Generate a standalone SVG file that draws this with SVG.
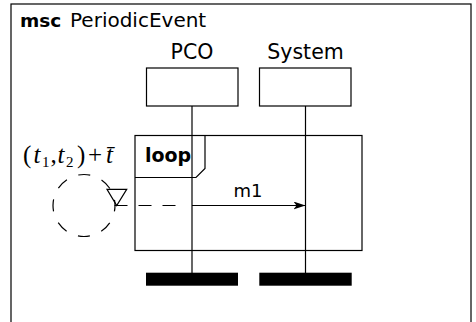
<svg xmlns="http://www.w3.org/2000/svg" width="476" height="322" viewBox="0 0 476 322">
<style>
.ln{fill:none;stroke:#000;stroke-width:1.2}
.box{fill:#fff;stroke:#000;stroke-width:1.2}
.bar{fill:#000;stroke:none}
.sans{font-family:"DejaVu Sans","Liberation Sans",sans-serif;fill:#000}
.math{font-family:"Liberation Serif","DejaVu Serif",serif;fill:#000}
.dash{fill:none;stroke:#000;stroke-width:1.2;stroke-dasharray:13 11}
</style>
<defs>
<marker id="arr" viewBox="0 0 12 8" refX="12" refY="4" markerWidth="12" markerHeight="8" markerUnits="userSpaceOnUse" orient="auto">
<path d="M12,4 L0,0 L3,4 L0,8 Z" fill="#000"/>
</marker>
</defs>
<rect width="476" height="322" fill="#fff"/>
<g id="frame">
<rect class="ln" x="11" y="4" width="460" height="340"/>
<text class="sans" y="27"><tspan x="20" font-weight="bold" font-size="18.5">msc</tspan><tspan x="70" font-size="20">PeriodicEvent</tspan></text>
</g>
<g id="loop">
<rect class="ln" x="135" y="135.5" width="227" height="115"/>
<path class="ln" d="M135,135.5 H205 V168.5 L196,177.5 H135"/>
<text class="sans" x="145" y="162" font-size="19" font-weight="bold">loop</text>
</g>
<g id="connectors">
<line class="ln" x1="192" y1="106" x2="192" y2="273"/>
<line class="ln" x1="305.5" y1="106" x2="305.5" y2="273"/>
<path class="dash" d="M114.5,205.5 H178"/>
<line class="ln" x1="192" y1="205.5" x2="305.5" y2="205.5" marker-end="url(#arr)"/>
<text class="sans" x="248" y="196.5" font-size="18" text-anchor="middle">m1</text>
</g>
<g id="PCO">
<text class="sans" x="192" y="58.5" font-size="20.5" text-anchor="middle">PCO</text>
<rect class="box" x="146.5" y="68" width="91.5" height="38"/>
<rect class="bar" x="146" y="272.7" width="92" height="13"/>
</g>
<g id="System">
<text class="sans" x="305.5" y="58.5" font-size="20.5" text-anchor="middle">System</text>
<rect class="box" x="259.5" y="68" width="91.5" height="38"/>
<rect class="bar" x="259.3" y="272.7" width="92.4" height="13"/>
</g>
<g id="timer">
<circle cx="84" cy="205.5" r="31" fill="none" stroke="#000" stroke-width="1.2" stroke-dasharray="12 12.35" stroke-dashoffset="6"/>
<path class="ln" d="M107,189.3 H126.7 L116.7,205.5 Z"/>
<text class="math" y="163" font-size="25"><tspan x="23">(</tspan><tspan x="33.5" font-style="italic">t</tspan><tspan x="42" y="167" font-size="15">1</tspan><tspan x="50.5" y="163">,</tspan><tspan x="57.5" font-style="italic">t</tspan><tspan x="66" y="167" font-size="15">2</tspan><tspan x="77" y="163">)</tspan><tspan x="88">+</tspan><tspan x="106" font-style="italic">t&#x304;</tspan></text>
</g>
</svg>
